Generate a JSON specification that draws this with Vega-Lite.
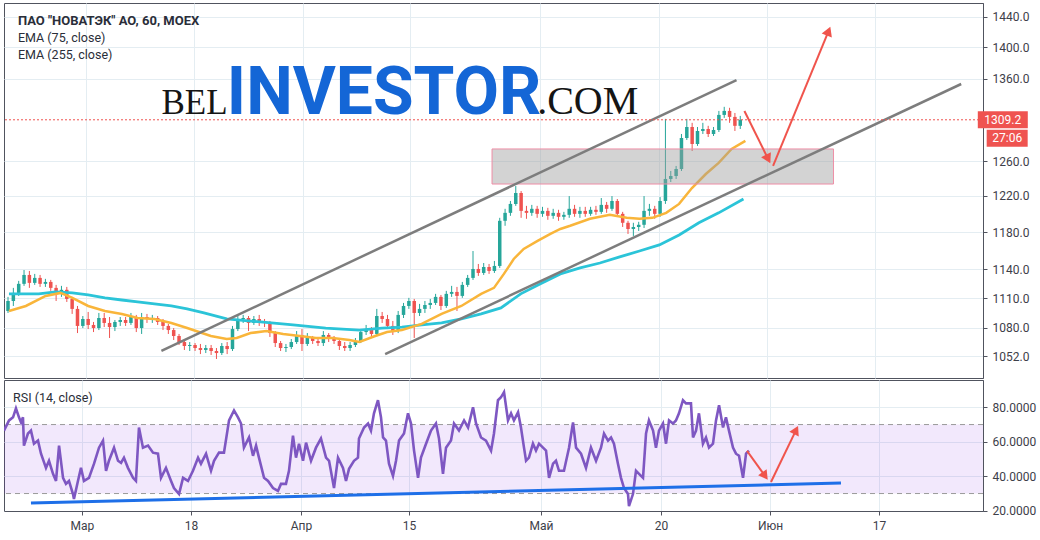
{
"$schema": "https://vega.github.io/schema/vega-lite/v6.json",
"background": "white",
"padding": {"left": 3, "top": 2, "right": 0, "bottom": 0},
"spacing": 0,
"config": {
  "view": {"stroke": "#50535e", "strokeWidth": 1},
  "axis": {"gridColor": "#e4edf2", "labelFont": "Roboto", "labelFontSize": 12, "labelColor": "#3d4049", "tickColor": "#50535e", "domainColor": "#50535e", "tickSize": 4}
},
"datasets": {
  "candles": [
{"t":-7.5,"o":1096.8,"h":1111.2,"l":1094.8,"c":1107.0},
{"t":-7.0,"o":1107.0,"h":1120.5,"l":1101.9,"c":1115.3},
{"t":-6.5,"o":1115.3,"h":1127.8,"l":1112.2,"c":1124.7},
{"t":-6.0,"o":1124.7,"h":1139.2,"l":1122.6,"c":1134.0},
{"t":-5.5,"o":1134.0,"h":1138.2,"l":1120.5,"c":1125.7},
{"t":-5.0,"o":1125.7,"h":1135.1,"l":1123.6,"c":1130.9},
{"t":-4.5,"o":1130.9,"h":1134.0,"l":1121.5,"c":1124.7},
{"t":-4.0,"o":1124.7,"h":1129.9,"l":1121.5,"c":1126.7},
{"t":-3.5,"o":1126.7,"h":1128.8,"l":1117.4,"c":1120.5},
{"t":-3.0,"o":1120.5,"h":1123.6,"l":1107.0,"c":1115.3},
{"t":-2.5,"o":1115.3,"h":1122.6,"l":1111.2,"c":1118.5},
{"t":-2.0,"o":1118.5,"h":1121.5,"l":1106.0,"c":1109.1},
{"t":-1.5,"o":1109.1,"h":1111.2,"l":1093.8,"c":1098.9},
{"t":-1.0,"o":1098.9,"h":1101.9,"l":1074.6,"c":1081.7},
{"t":-0.5,"o":1081.7,"h":1091.7,"l":1079.6,"c":1088.7},
{"t":0.0,"o":1088.7,"h":1095.8,"l":1078.6,"c":1082.7},
{"t":0.5,"o":1082.7,"h":1085.7,"l":1075.6,"c":1079.6},
{"t":1.0,"o":1079.6,"h":1094.8,"l":1077.6,"c":1089.7},
{"t":1.5,"o":1089.7,"h":1094.8,"l":1080.6,"c":1084.7},
{"t":2.0,"o":1084.7,"h":1090.7,"l":1069.7,"c":1080.6},
{"t":2.5,"o":1080.6,"h":1087.7,"l":1076.6,"c":1085.7},
{"t":3.0,"o":1085.7,"h":1090.7,"l":1081.7,"c":1087.7},
{"t":3.5,"o":1087.7,"h":1090.7,"l":1081.7,"c":1084.7},
{"t":4.0,"o":1084.7,"h":1094.8,"l":1082.7,"c":1090.7},
{"t":4.5,"o":1090.7,"h":1092.8,"l":1075.6,"c":1079.6},
{"t":5.0,"o":1079.6,"h":1094.8,"l":1073.7,"c":1090.7},
{"t":5.5,"o":1090.7,"h":1093.8,"l":1084.7,"c":1088.7},
{"t":6.0,"o":1088.7,"h":1092.8,"l":1084.7,"c":1089.7},
{"t":6.5,"o":1089.7,"h":1091.7,"l":1082.7,"c":1085.7},
{"t":7.0,"o":1085.7,"h":1088.7,"l":1077.6,"c":1081.7},
{"t":7.5,"o":1081.7,"h":1083.7,"l":1073.7,"c":1077.6},
{"t":8.0,"o":1077.6,"h":1079.6,"l":1067.7,"c":1071.7},
{"t":8.5,"o":1071.7,"h":1073.7,"l":1062.8,"c":1065.7},
{"t":9.0,"o":1065.7,"h":1067.7,"l":1057.9,"c":1061.8},
{"t":9.5,"o":1061.8,"h":1065.7,"l":1056.9,"c":1062.8},
{"t":10.0,"o":1062.8,"h":1064.7,"l":1056.9,"c":1059.8},
{"t":10.5,"o":1059.8,"h":1063.8,"l":1053.9,"c":1057.9},
{"t":11.0,"o":1057.9,"h":1062.8,"l":1054.9,"c":1059.8},
{"t":11.5,"o":1059.8,"h":1062.8,"l":1053.0,"c":1056.9},
{"t":12.0,"o":1056.9,"h":1059.8,"l":1049.1,"c":1054.9},
{"t":12.5,"o":1054.9,"h":1064.7,"l":1053.0,"c":1061.8},
{"t":13.0,"o":1061.8,"h":1065.7,"l":1053.9,"c":1058.8},
{"t":13.5,"o":1058.8,"h":1081.7,"l":1056.9,"c":1078.6},
{"t":14.0,"o":1078.6,"h":1092.8,"l":1076.6,"c":1088.7},
{"t":14.5,"o":1088.7,"h":1092.8,"l":1084.7,"c":1089.7},
{"t":15.0,"o":1089.7,"h":1091.7,"l":1076.6,"c":1084.7},
{"t":15.5,"o":1084.7,"h":1091.7,"l":1082.7,"c":1088.7},
{"t":16.0,"o":1088.7,"h":1092.8,"l":1081.7,"c":1085.7},
{"t":16.5,"o":1085.7,"h":1088.7,"l":1080.6,"c":1084.7},
{"t":17.0,"o":1084.7,"h":1086.7,"l":1070.7,"c":1074.6},
{"t":17.5,"o":1074.6,"h":1076.6,"l":1060.8,"c":1064.7},
{"t":18.0,"o":1064.7,"h":1066.7,"l":1056.9,"c":1059.8},
{"t":18.5,"o":1059.8,"h":1063.8,"l":1055.9,"c":1060.8},
{"t":19.0,"o":1060.8,"h":1068.7,"l":1058.8,"c":1065.7},
{"t":19.5,"o":1065.7,"h":1076.6,"l":1063.8,"c":1072.7},
{"t":20.0,"o":1072.7,"h":1078.6,"l":1056.9,"c":1063.8},
{"t":20.5,"o":1063.8,"h":1074.6,"l":1061.8,"c":1069.7},
{"t":21.0,"o":1069.7,"h":1071.7,"l":1063.8,"c":1066.7},
{"t":21.5,"o":1066.7,"h":1069.7,"l":1061.8,"c":1064.7},
{"t":22.0,"o":1064.7,"h":1076.6,"l":1061.8,"c":1072.7},
{"t":22.5,"o":1072.7,"h":1074.6,"l":1065.7,"c":1069.7},
{"t":23.0,"o":1069.7,"h":1071.7,"l":1063.8,"c":1066.7},
{"t":23.5,"o":1066.7,"h":1069.7,"l":1057.9,"c":1061.8},
{"t":24.0,"o":1061.8,"h":1065.7,"l":1056.9,"c":1059.8},
{"t":24.5,"o":1059.8,"h":1065.7,"l":1056.9,"c":1062.8},
{"t":25.0,"o":1062.8,"h":1069.7,"l":1060.8,"c":1066.7},
{"t":25.5,"o":1066.7,"h":1078.6,"l":1064.7,"c":1075.6},
{"t":26.0,"o":1075.6,"h":1082.7,"l":1072.7,"c":1078.6},
{"t":26.5,"o":1078.6,"h":1080.6,"l":1069.7,"c":1073.7},
{"t":27.0,"o":1073.7,"h":1098.9,"l":1071.7,"c":1091.7},
{"t":27.5,"o":1091.7,"h":1095.8,"l":1084.7,"c":1088.7},
{"t":28.0,"o":1088.7,"h":1092.8,"l":1078.6,"c":1081.7},
{"t":28.5,"o":1081.7,"h":1086.7,"l":1072.7,"c":1076.6},
{"t":29.0,"o":1076.6,"h":1096.8,"l":1074.6,"c":1092.8},
{"t":29.5,"o":1092.8,"h":1105.0,"l":1089.7,"c":1101.9},
{"t":30.0,"o":1101.9,"h":1110.2,"l":1098.9,"c":1107.0},
{"t":30.5,"o":1107.0,"h":1109.1,"l":1069.7,"c":1094.8},
{"t":31.0,"o":1094.8,"h":1104.0,"l":1091.7,"c":1098.9},
{"t":31.5,"o":1098.9,"h":1107.0,"l":1094.8,"c":1102.9},
{"t":32.0,"o":1102.9,"h":1109.1,"l":1098.9,"c":1105.0},
{"t":32.5,"o":1105.0,"h":1114.3,"l":1102.9,"c":1111.2},
{"t":33.0,"o":1111.2,"h":1113.2,"l":1097.8,"c":1101.9},
{"t":33.5,"o":1101.9,"h":1117.4,"l":1099.9,"c":1114.3},
{"t":34.0,"o":1114.3,"h":1122.6,"l":1111.2,"c":1116.3},
{"t":34.5,"o":1116.3,"h":1121.5,"l":1096.8,"c":1112.2},
{"t":35.0,"o":1112.2,"h":1126.7,"l":1110.2,"c":1123.6},
{"t":35.5,"o":1123.6,"h":1134.0,"l":1121.5,"c":1130.9},
{"t":36.0,"o":1130.9,"h":1159.4,"l":1128.8,"c":1140.3},
{"t":36.5,"o":1140.3,"h":1145.6,"l":1133.0,"c":1136.1},
{"t":37.0,"o":1136.1,"h":1146.6,"l":1134.0,"c":1142.4},
{"t":37.5,"o":1142.4,"h":1145.6,"l":1135.1,"c":1138.2},
{"t":38.0,"o":1138.2,"h":1148.8,"l":1136.1,"c":1143.5},
{"t":38.5,"o":1143.5,"h":1195.6,"l":1141.4,"c":1192.3},
{"t":39.0,"o":1192.3,"h":1205.6,"l":1186.8,"c":1201.1},
{"t":39.5,"o":1201.1,"h":1214.4,"l":1197.8,"c":1211.1},
{"t":40.0,"o":1211.1,"h":1231.3,"l":1208.9,"c":1223.4},
{"t":40.5,"o":1223.4,"h":1225.6,"l":1195.6,"c":1203.3},
{"t":41.0,"o":1203.3,"h":1208.9,"l":1194.5,"c":1201.1},
{"t":41.5,"o":1201.1,"h":1210.0,"l":1197.8,"c":1205.6},
{"t":42.0,"o":1205.6,"h":1208.9,"l":1195.6,"c":1200.0},
{"t":42.5,"o":1200.0,"h":1207.8,"l":1196.7,"c":1203.3},
{"t":43.0,"o":1203.3,"h":1206.7,"l":1193.4,"c":1197.8},
{"t":43.5,"o":1197.8,"h":1205.6,"l":1194.5,"c":1201.1},
{"t":44.0,"o":1201.1,"h":1204.5,"l":1192.3,"c":1196.7},
{"t":44.5,"o":1196.7,"h":1202.2,"l":1193.4,"c":1198.9},
{"t":45.0,"o":1198.9,"h":1219.9,"l":1195.6,"c":1205.6},
{"t":45.5,"o":1205.6,"h":1210.0,"l":1196.7,"c":1200.0},
{"t":46.0,"o":1200.0,"h":1207.8,"l":1195.6,"c":1203.3},
{"t":46.5,"o":1203.3,"h":1207.8,"l":1196.7,"c":1200.0},
{"t":47.0,"o":1200.0,"h":1207.8,"l":1197.8,"c":1204.5},
{"t":47.5,"o":1204.5,"h":1208.9,"l":1198.9,"c":1202.2},
{"t":48.0,"o":1202.2,"h":1217.7,"l":1200.0,"c":1210.0},
{"t":48.5,"o":1210.0,"h":1213.3,"l":1201.1,"c":1205.6},
{"t":49.0,"o":1205.6,"h":1219.9,"l":1203.3,"c":1214.4},
{"t":49.5,"o":1214.4,"h":1216.6,"l":1196.7,"c":1200.0},
{"t":50.0,"o":1200.0,"h":1202.2,"l":1185.5,"c":1190.1},
{"t":50.5,"o":1190.1,"h":1192.3,"l":1177.9,"c":1183.3},
{"t":51.0,"o":1183.3,"h":1190.1,"l":1175.7,"c":1185.5},
{"t":51.5,"o":1185.5,"h":1191.2,"l":1181.1,"c":1187.9},
{"t":52.0,"o":1187.9,"h":1219.9,"l":1184.4,"c":1203.3},
{"t":52.5,"o":1203.3,"h":1211.1,"l":1197.8,"c":1205.6},
{"t":53.0,"o":1205.6,"h":1208.9,"l":1194.5,"c":1200.0},
{"t":53.5,"o":1200.0,"h":1218.8,"l":1196.7,"c":1214.4},
{"t":54.0,"o":1214.4,"h":1310.3,"l":1211.1,"c":1239.4},
{"t":54.5,"o":1239.4,"h":1248.6,"l":1235.9,"c":1242.8},
{"t":55.0,"o":1242.8,"h":1254.4,"l":1239.4,"c":1250.9},
{"t":55.5,"o":1250.9,"h":1292.1,"l":1248.6,"c":1287.3},
{"t":56.0,"o":1287.3,"h":1310.3,"l":1285.0,"c":1300.5},
{"t":56.5,"o":1300.5,"h":1305.5,"l":1271.9,"c":1280.2},
{"t":57.0,"o":1280.2,"h":1300.5,"l":1277.9,"c":1295.7},
{"t":57.5,"o":1295.7,"h":1305.5,"l":1292.1,"c":1298.1},
{"t":58.0,"o":1298.1,"h":1301.9,"l":1288.5,"c":1292.1},
{"t":58.5,"o":1292.1,"h":1300.5,"l":1289.7,"c":1296.9},
{"t":59.0,"o":1296.9,"h":1320.0,"l":1294.5,"c":1315.1},
{"t":59.5,"o":1315.1,"h":1325.0,"l":1311.5,"c":1320.0},
{"t":60.0,"o":1320.0,"h":1323.8,"l":1305.5,"c":1312.7},
{"t":60.5,"o":1312.7,"h":1317.5,"l":1295.7,"c":1301.9},
{"t":61.0,"o":1301.9,"h":1313.9,"l":1298.1,"c":1309.2}
  ],
  "ema75": [
{"t":-7.41,"p":1096.8},{"t":-5.83,"p":1101.9},{"t":-3.98,"p":1112.2},{"t":-2.59,"p":1115.3},{"t":-1.48,"p":1110.2},{"t":0,"p":1101.9},{"t":1.57,"p":1096.8},{"t":3.15,"p":1093.8},{"t":4.63,"p":1089.7},{"t":6.2,"p":1088.7},{"t":7.78,"p":1084.7},{"t":9.26,"p":1079.6},{"t":10.37,"p":1075.6},{"t":11.48,"p":1071.7},{"t":12.96,"p":1068.7},{"t":13.89,"p":1069.7},{"t":15.19,"p":1074.6},{"t":16.67,"p":1076.6},{"t":18.24,"p":1073.7},{"t":19.81,"p":1071.7},{"t":21.3,"p":1069.7},{"t":22.87,"p":1069.7},{"t":24.44,"p":1067.7},{"t":25.37,"p":1065.7},{"t":26.85,"p":1071.7},{"t":27.96,"p":1075.6},{"t":29.35,"p":1077.6},{"t":31.2,"p":1083.7},{"t":33.06,"p":1093.8},{"t":34.91,"p":1101.9},{"t":36.76,"p":1114.3},{"t":37.96,"p":1120.5},{"t":38.89,"p":1135.1},{"t":39.81,"p":1150.9},{"t":40.74,"p":1161.6},{"t":42.04,"p":1170.3},{"t":43.24,"p":1177.9},{"t":44.17,"p":1183.3},{"t":45.09,"p":1186.8},{"t":46.94,"p":1194.5},{"t":48.8,"p":1198.9},{"t":50.37,"p":1195.6},{"t":51.57,"p":1194.5},{"t":52.78,"p":1195.6},{"t":54.07,"p":1201.1},{"t":55.28,"p":1211.1},{"t":56.48,"p":1229.0},{"t":57.78,"p":1245.1},{"t":58.98,"p":1258.0},{"t":60.19,"p":1274.3},{"t":61.48,"p":1283.8}
  ],
  "ema255": [
{"t":-7.41,"p":1114.3},{"t":-4.63,"p":1114.3},{"t":-3.06,"p":1116.3},{"t":-1.48,"p":1115.3},{"t":0,"p":1113.2},{"t":1.57,"p":1110.2},{"t":3.15,"p":1108.0},{"t":4.63,"p":1106.0},{"t":6.2,"p":1104.0},{"t":7.78,"p":1101.9},{"t":9.26,"p":1098.9},{"t":10.83,"p":1094.8},{"t":12.96,"p":1088.7},{"t":16.11,"p":1085.7},{"t":19.17,"p":1082.7},{"t":22.22,"p":1079.6},{"t":25.37,"p":1077.6},{"t":27.5,"p":1079.6},{"t":29.35,"p":1080.6},{"t":31.2,"p":1082.7},{"t":33.06,"p":1084.7},{"t":34.91,"p":1088.7},{"t":36.76,"p":1093.8},{"t":38.61,"p":1099.9},{"t":40.46,"p":1114.3},{"t":42.31,"p":1124.7},{"t":44.17,"p":1135.1},{"t":46.02,"p":1141.4},{"t":47.87,"p":1146.6},{"t":49.72,"p":1153.1},{"t":51.57,"p":1159.4},{"t":53.43,"p":1166.0},{"t":55.28,"p":1176.8},{"t":57.13,"p":1190.1},{"t":58.98,"p":1201.1},{"t":61.3,"p":1216.6}
  ],
  "channels": [
{"id":"upper","t":6.85,"p":1056.9},{"id":"upper","t":60.65,"p":1358.3},
{"id":"lower","t":27.78,"p":1053.9},{"id":"lower","t":81.67,"p":1353.3}
  ],
  "zone": [{"t1":37.78,"t2":69.72,"p1":1233.6,"p2":1274.3}],
  "priceArrows": [
{"id":1,"t":61.39,"p":1319.9},{"id":1,"t":63.61,"p":1262.5},
{"id":2,"t":64.07,"p":1254.4},{"id":2,"t":69.26,"p":1421.3}
  ],
  "last": [{"p":1309.2,"timer":"27:06"}],
  "legend": [
{"label":"ПАО \"НОВАТЭК\" АО, 60, MOEX","p":1434.5},
{"label":"EMA (75, close)","p":1412.2},
{"label":"EMA (255, close)","p":1390.2}
  ],
  "watermark": [{"a":"BEL","b":"INVESTOR","c":".COM"}],
  "rsiTitle": [{"label":"RSI (14, close)"}],
  "rsi": [
{"t":-7.41,"v":66.5},{"t":-6.94,"v":72.4},{"t":-6.57,"v":74.2},{"t":-6.3,"v":79.4},{"t":-6.02,"v":74.2},{"t":-5.83,"v":71.2},{"t":-5.65,"v":74.2},{"t":-5.56,"v":57.8},{"t":-5.19,"v":64.8},{"t":-4.91,"v":66.5},{"t":-4.63,"v":58.9},{"t":-4.26,"v":60.7},{"t":-3.98,"v":53.1},{"t":-3.52,"v":44.9},{"t":-3.24,"v":49.0},{"t":-2.87,"v":41.4},{"t":-2.59,"v":37.3},{"t":-2.31,"v":57.8},{"t":-1.94,"v":39.1},{"t":-1.67,"v":35.6},{"t":-1.39,"v":37.3},{"t":-1.02,"v":29.7},{"t":-0.93,"v":26.8},{"t":-0.56,"v":37.3},{"t":-0.28,"v":44.9},{"t":0,"v":37.3},{"t":0.46,"v":39.1},{"t":0.93,"v":47.3},{"t":1.39,"v":56.6},{"t":1.76,"v":60.7},{"t":2.04,"v":43.2},{"t":2.31,"v":49.0},{"t":2.78,"v":56.6},{"t":3.15,"v":49.0},{"t":3.43,"v":47.8},{"t":3.7,"v":50.8},{"t":4.07,"v":44.9},{"t":4.54,"v":39.1},{"t":4.81,"v":37.3},{"t":5.09,"v":68.3},{"t":5.46,"v":56.6},{"t":5.93,"v":57.8},{"t":6.39,"v":53.7},{"t":6.85,"v":53.1},{"t":7.13,"v":39.1},{"t":7.59,"v":44.9},{"t":8.06,"v":37.3},{"t":8.33,"v":33.2},{"t":8.8,"v":29.7},{"t":9.17,"v":39.1},{"t":9.63,"v":37.3},{"t":10.09,"v":43.2},{"t":10.56,"v":50.8},{"t":10.83,"v":47.3},{"t":11.3,"v":53.1},{"t":11.76,"v":43.2},{"t":12.04,"v":49.0},{"t":12.5,"v":53.7},{"t":12.96,"v":53.7},{"t":13.43,"v":72.4},{"t":13.89,"v":78.2},{"t":14.26,"v":74.2},{"t":14.54,"v":70.6},{"t":14.81,"v":56.6},{"t":15.28,"v":62.5},{"t":15.65,"v":51.9},{"t":15.93,"v":57.8},{"t":16.2,"v":50.8},{"t":16.67,"v":39.1},{"t":17.04,"v":37.3},{"t":17.5,"v":33.2},{"t":17.96,"v":31.5},{"t":18.24,"v":35.6},{"t":18.7,"v":35.6},{"t":18.98,"v":43.2},{"t":19.35,"v":63.6},{"t":19.63,"v":50.8},{"t":19.91,"v":58.9},{"t":20.28,"v":49.0},{"t":20.56,"v":59.5},{"t":21.02,"v":49.0},{"t":21.48,"v":56.6},{"t":21.94,"v":61.9},{"t":22.41,"v":50.8},{"t":22.69,"v":49.0},{"t":23.15,"v":33.2},{"t":23.52,"v":50.8},{"t":23.98,"v":44.9},{"t":24.26,"v":37.3},{"t":24.54,"v":44.3},{"t":25.0,"v":49.0},{"t":25.37,"v":50.8},{"t":25.46,"v":61.9},{"t":25.93,"v":68.3},{"t":26.3,"v":70.6},{"t":26.57,"v":66.5},{"t":26.85,"v":76.5},{"t":27.22,"v":84.1},{"t":27.5,"v":74.2},{"t":27.69,"v":62.5},{"t":27.96,"v":60.7},{"t":28.24,"v":47.3},{"t":28.61,"v":40.2},{"t":28.89,"v":49.0},{"t":29.17,"v":60.7},{"t":29.63,"v":64.8},{"t":30.0,"v":76.5},{"t":30.28,"v":70.6},{"t":30.56,"v":54.9},{"t":30.93,"v":39.1},{"t":31.2,"v":50.8},{"t":31.67,"v":58.9},{"t":32.13,"v":66.5},{"t":32.59,"v":70.6},{"t":32.87,"v":61.9},{"t":33.24,"v":41.4},{"t":33.52,"v":56.6},{"t":33.98,"v":60.7},{"t":34.26,"v":70.6},{"t":34.72,"v":66.5},{"t":35.19,"v":72.4},{"t":35.56,"v":68.3},{"t":36.02,"v":80.0},{"t":36.3,"v":70.6},{"t":36.76,"v":62.5},{"t":37.22,"v":60.7},{"t":37.69,"v":54.9},{"t":37.96,"v":64.8},{"t":38.33,"v":84.1},{"t":38.61,"v":85.8},{"t":38.89,"v":88.8},{"t":39.26,"v":72.4},{"t":39.54,"v":76.5},{"t":39.81,"v":72.4},{"t":40.19,"v":77.1},{"t":40.46,"v":68.3},{"t":40.74,"v":56.6},{"t":40.93,"v":49.0},{"t":41.2,"v":50.8},{"t":41.57,"v":58.9},{"t":41.85,"v":54.9},{"t":42.13,"v":58.9},{"t":42.5,"v":56.6},{"t":42.78,"v":54.9},{"t":43.06,"v":39.1},{"t":43.43,"v":47.3},{"t":43.7,"v":49.0},{"t":43.98,"v":43.2},{"t":44.44,"v":43.2},{"t":44.91,"v":56.6},{"t":45.28,"v":71.2},{"t":45.56,"v":56.6},{"t":46.02,"v":53.1},{"t":46.48,"v":44.9},{"t":46.94,"v":56.6},{"t":47.41,"v":49.0},{"t":47.87,"v":56.6},{"t":48.15,"v":64.8},{"t":48.52,"v":60.7},{"t":48.8,"v":62.5},{"t":49.07,"v":58.9},{"t":49.44,"v":47.3},{"t":49.72,"v":39.1},{"t":50.0,"v":33.2},{"t":50.37,"v":29.7},{"t":50.46,"v":22.7},{"t":50.83,"v":29.7},{"t":51.11,"v":43.2},{"t":51.39,"v":41.4},{"t":51.76,"v":39.1},{"t":52.04,"v":64.8},{"t":52.31,"v":72.4},{"t":52.69,"v":66.5},{"t":52.96,"v":56.6},{"t":53.24,"v":66.5},{"t":53.61,"v":70.6},{"t":53.89,"v":58.9},{"t":54.17,"v":72.4},{"t":54.54,"v":70.6},{"t":54.81,"v":72.4},{"t":55.09,"v":76.5},{"t":55.46,"v":84.1},{"t":55.74,"v":82.3},{"t":56.2,"v":82.3},{"t":56.39,"v":62.5},{"t":56.67,"v":66.5},{"t":56.94,"v":76.5},{"t":57.31,"v":58.9},{"t":57.59,"v":62.5},{"t":57.87,"v":56.6},{"t":58.24,"v":58.9},{"t":58.52,"v":72.4},{"t":58.8,"v":81.2},{"t":59.17,"v":68.3},{"t":59.44,"v":74.2},{"t":59.72,"v":66.5},{"t":60.09,"v":56.6},{"t":60.37,"v":53.1},{"t":60.65,"v":51.9},{"t":61.02,"v":39.1},{"t":61.3,"v":53.1},{"t":61.57,"v":54.9}
  ],
  "rsiBand": [{"lo":30,"hi":70}],
  "rsiLevels": [{"v":70},{"v":30}],
  "rsiTrend": [{"t":-4.91,"v":24.5},{"t":70.09,"v":36.1}],
  "rsiArrows": [
{"id":1,"t":61.39,"v":54.7},{"id":1,"t":63.06,"v":40.2},
{"id":2,"t":63.61,"v":36.7},{"id":2,"t":65.93,"v":66.8}
  ]
},
"vconcat": [
{
  "width": 979,
  "height": 375,
  "layer": [
    {"data": {"name": "candles"},
     "mark": {"type": "rule", "clip": true, "strokeWidth": 1},
     "encoding": {
       "x": {"field": "t", "type": "quantitative", "title": null, "scale": {"domain": [-7.407, 83.24], "nice": false, "zero": false},
             "axis": {"values": [-0.19, 9.91, 20.09, 30.09, 42.31, 53.43, 63.52, 73.61], "labels": false, "ticks": false, "domain": false, "grid": true}},
       "y": {"field": "l", "type": "quantitative", "title": null, "scale": {"type": "log", "domain": [1030.8, 1458.7], "nice": false},
             "axis": {"orient": "right", "values": [1052, 1080, 1110, 1140, 1180, 1220, 1260, 1360, 1400, 1440], "format": ".1f", "grid": true, "labelPadding": 5}},
       "y2": {"field": "h"},
       "color": {"condition": {"test": "datum.c >= datum.o", "value": "#26a69a"}, "value": "#ef5350"}
     }},
    {"data": {"name": "candles"},
     "mark": {"type": "bar", "clip": true, "size": 3.5},
     "encoding": {
       "x": {"field": "t", "type": "quantitative", "title": null, "scale": {"domain": [-7.407, 83.24], "nice": false, "zero": false}},
       "y": {"field": "o", "type": "quantitative", "title": null, "scale": {"type": "log", "domain": [1030.8, 1458.7], "nice": false}},
       "y2": {"field": "c"},
       "color": {"condition": {"test": "datum.c >= datum.o", "value": "#26a69a"}, "value": "#ef5350"}
     }},
    {"data": {"name": "ema255"},
     "mark": {"type": "line", "clip": true, "color": "#2bc4d8", "strokeWidth": 2.8},
     "encoding": {
       "x": {"field": "t", "type": "quantitative", "title": null, "scale": {"domain": [-7.407, 83.24], "nice": false, "zero": false}},
       "y": {"field": "p", "type": "quantitative", "title": null, "scale": {"type": "log", "domain": [1030.8, 1458.7], "nice": false}}
     }},
    {"data": {"name": "ema75"},
     "mark": {"type": "line", "clip": true, "color": "#f9b53a", "strokeWidth": 2.5},
     "encoding": {
       "x": {"field": "t", "type": "quantitative", "title": null, "scale": {"domain": [-7.407, 83.24], "nice": false, "zero": false}},
       "y": {"field": "p", "type": "quantitative", "title": null, "scale": {"type": "log", "domain": [1030.8, 1458.7], "nice": false}}
     }},
    {"data": {"name": "zone"},
     "mark": {"type": "rect", "fill": "#9e9e9e", "fillOpacity": 0.45, "stroke": "#ee8ea6", "strokeWidth": 1},
     "encoding": {
       "x": {"field": "t1", "type": "quantitative", "title": null, "scale": {"domain": [-7.407, 83.24], "nice": false, "zero": false}},
       "x2": {"field": "t2"},
       "y": {"field": "p1", "type": "quantitative", "title": null, "scale": {"type": "log", "domain": [1030.8, 1458.7], "nice": false}},
       "y2": {"field": "p2"}
     }},
    {"data": {"name": "channels"},
     "mark": {"type": "line", "clip": true, "color": "#7d7d7d", "strokeWidth": 2.5},
     "encoding": {
       "x": {"field": "t", "type": "quantitative", "title": null, "scale": {"domain": [-7.407, 83.24], "nice": false, "zero": false}},
       "y": {"field": "p", "type": "quantitative", "title": null, "scale": {"type": "log", "domain": [1030.8, 1458.7], "nice": false}},
       "detail": {"field": "id"}
     }},
    {"data": {"name": "last"},
     "mark": {"type": "rule", "color": "#ef5350", "strokeDash": [2, 2], "strokeWidth": 1},
     "encoding": {
       "y": {"field": "p", "type": "quantitative", "title": null, "scale": {"type": "log", "domain": [1030.8, 1458.7], "nice": false}}
     }},
    {"data": {"name": "priceArrows"},
     "mark": {"type": "line", "color": "#f0544c", "strokeWidth": 2},
     "encoding": {
       "x": {"field": "t", "type": "quantitative", "title": null, "scale": {"domain": [-7.407, 83.24], "nice": false, "zero": false}},
       "y": {"field": "p", "type": "quantitative", "title": null, "scale": {"type": "log", "domain": [1030.8, 1458.7], "nice": false}},
       "detail": {"field": "id"}
     }},
    {"data": {"name": "priceArrows"},
     "transform": [{"filter": "datum.id == 1 && datum.t > 62"}],
     "mark": {"type": "point", "shape": "triangle-up", "filled": true, "color": "#f0544c", "size": 120, "angle": 153, "opacity": 1},
     "encoding": {
       "x": {"field": "t", "type": "quantitative", "title": null, "scale": {"domain": [-7.407, 83.24], "nice": false, "zero": false}},
       "y": {"field": "p", "type": "quantitative", "title": null, "scale": {"type": "log", "domain": [1030.8, 1458.7], "nice": false}}
     }},
    {"data": {"name": "priceArrows"},
     "transform": [{"filter": "datum.id == 2 && datum.t > 65"}],
     "mark": {"type": "point", "shape": "triangle-up", "filled": true, "color": "#f0544c", "size": 120, "angle": 22, "opacity": 1},
     "encoding": {
       "x": {"field": "t", "type": "quantitative", "title": null, "scale": {"domain": [-7.407, 83.24], "nice": false, "zero": false}},
       "y": {"field": "p", "type": "quantitative", "title": null, "scale": {"type": "log", "domain": [1030.8, 1458.7], "nice": false}}
     }},
    {"data": {"name": "last"},
     "mark": {"type": "rect", "color": "#ef5350", "width": 50, "height": 17},
     "encoding": {
       "x": {"datum": 85.56, "type": "quantitative", "scale": {"domain": [-7.407, 83.24], "nice": false, "zero": false}},
       "y": {"field": "p", "type": "quantitative", "title": null, "scale": {"type": "log", "domain": [1030.8, 1458.7], "nice": false}}
     }},
    {"data": {"name": "last"},
     "mark": {"type": "rect", "color": "#ef5350", "width": 41, "height": 17, "yOffset": 18.5},
     "encoding": {
       "x": {"datum": 85.97, "type": "quantitative", "scale": {"domain": [-7.407, 83.24], "nice": false, "zero": false}},
       "y": {"field": "p", "type": "quantitative", "title": null, "scale": {"type": "log", "domain": [1030.8, 1458.7], "nice": false}}
     }},
    {"data": {"name": "last"},
     "mark": {"type": "text", "color": "white", "font": "Roboto", "fontSize": 12, "align": "center", "baseline": "middle"},
     "encoding": {
       "x": {"datum": 85.56, "type": "quantitative", "scale": {"domain": [-7.407, 83.24], "nice": false, "zero": false}},
       "y": {"field": "p", "type": "quantitative", "title": null, "scale": {"type": "log", "domain": [1030.8, 1458.7], "nice": false}},
       "text": {"field": "p", "format": ".1f"}
     }},
    {"data": {"name": "last"},
     "mark": {"type": "text", "color": "white", "font": "Roboto", "fontSize": 12, "align": "center", "baseline": "middle", "yOffset": 18.5},
     "encoding": {
       "x": {"datum": 85.97, "type": "quantitative", "scale": {"domain": [-7.407, 83.24], "nice": false, "zero": false}},
       "y": {"field": "p", "type": "quantitative", "title": null, "scale": {"type": "log", "domain": [1030.8, 1458.7], "nice": false}},
       "text": {"field": "timer"}
     }},
    {"data": {"name": "legend"},
     "transform": [{"filter": "datum.p > 1420"}],
     "mark": {"type": "text", "align": "left", "baseline": "middle", "font": "Roboto", "fontSize": 13, "fontWeight": "bold", "color": "#2a2e39"},
     "encoding": {
       "x": {"datum": -6.57, "type": "quantitative", "scale": {"domain": [-7.407, 83.24], "nice": false, "zero": false}},
       "y": {"field": "p", "type": "quantitative", "title": null, "scale": {"type": "log", "domain": [1030.8, 1458.7], "nice": false}},
       "text": {"field": "label"}
     }},
    {"data": {"name": "legend"},
     "transform": [{"filter": "datum.p < 1420"}],
     "mark": {"type": "text", "align": "left", "baseline": "middle", "font": "Roboto", "fontSize": 12.5, "color": "#2a2e39"},
     "encoding": {
       "x": {"datum": -6.57, "type": "quantitative", "scale": {"domain": [-7.407, 83.24], "nice": false, "zero": false}},
       "y": {"field": "p", "type": "quantitative", "title": null, "scale": {"type": "log", "domain": [1030.8, 1458.7], "nice": false}},
       "text": {"field": "label"}
     }},
    {"data": {"name": "watermark"},
     "mark": {"type": "text", "align": "left", "baseline": "alphabetic", "font": "Liberation Serif", "fontSize": 35, "color": "#151515"},
     "encoding": {
       "x": {"datum": 6.85, "type": "quantitative", "scale": {"domain": [-7.407, 83.24], "nice": false, "zero": false}},
       "y": {"datum": 1316.2, "type": "quantitative", "scale": {"type": "log", "domain": [1030.8, 1458.7], "nice": false}},
       "text": {"field": "a"}
     }},
    {"data": {"name": "watermark"},
     "mark": {"type": "text", "align": "left", "baseline": "alphabetic", "font": "Roboto", "fontWeight": "bold", "fontSize": 66, "color": "#1466d6"},
     "encoding": {
       "x": {"datum": 12.97, "type": "quantitative", "scale": {"domain": [-7.407, 83.24], "nice": false, "zero": false}},
       "y": {"datum": 1316.2, "type": "quantitative", "scale": {"type": "log", "domain": [1030.8, 1458.7], "nice": false}},
       "text": {"field": "b"}
     }},
    {"data": {"name": "watermark"},
     "mark": {"type": "text", "align": "left", "baseline": "alphabetic", "font": "Liberation Serif", "fontSize": 40, "color": "#151515"},
     "encoding": {
       "x": {"datum": 42.0, "type": "quantitative", "scale": {"domain": [-7.407, 83.24], "nice": false, "zero": false}},
       "y": {"datum": 1316.2, "type": "quantitative", "scale": {"type": "log", "domain": [1030.8, 1458.7], "nice": false}},
       "text": {"field": "c"}
     }}
  ]
},
{
  "width": 979,
  "height": 131,
  "layer": [
    {"data": {"name": "rsiBand"},
     "mark": {"type": "rect", "color": "#7b1fe0", "opacity": 0.1},
     "encoding": {
       "x": {"datum": -7.407, "type": "quantitative", "scale": {"domain": [-7.407, 83.24], "nice": false, "zero": false},
             "axis": {"values": [-0.19, 9.91, 20.09, 30.09, 42.31, 53.43, 63.52, 73.61], "grid": true, "title": null, "labelPadding": 5,
                      "labelExpr": "datum.value < 5 ? 'Мар' : datum.value < 15 ? '18' : datum.value < 25 ? 'Апр' : datum.value < 35 ? '15' : datum.value < 48 ? 'Май' : datum.value < 58 ? '20' : datum.value < 68 ? 'Июн' : '17'"}},
       "x2": {"datum": 83.24},
       "y": {"field": "lo", "type": "quantitative", "title": null, "scale": {"domain": [19.88, 95.83], "nice": false, "zero": false},
             "axis": {"orient": "right", "values": [20, 40, 60, 80], "format": ".4f", "grid": true, "labelPadding": 5}},
       "y2": {"field": "hi"}
     }},
    {"data": {"name": "rsiLevels"},
     "mark": {"type": "rule", "color": "#9a9a9a", "strokeDash": [5, 4], "strokeWidth": 1},
     "encoding": {
       "y": {"field": "v", "type": "quantitative", "title": null, "scale": {"domain": [19.88, 95.83], "nice": false, "zero": false}}
     }},
    {"data": {"name": "rsi"},
     "mark": {"type": "line", "clip": true, "color": "#7e57c2", "strokeWidth": 2.6},
     "encoding": {
       "x": {"field": "t", "type": "quantitative", "title": null, "scale": {"domain": [-7.407, 83.24], "nice": false, "zero": false}},
       "y": {"field": "v", "type": "quantitative", "title": null, "scale": {"domain": [19.88, 95.83], "nice": false, "zero": false}}
     }},
    {"data": {"name": "rsiTrend"},
     "mark": {"type": "line", "color": "#1e6fe8", "strokeWidth": 3},
     "encoding": {
       "x": {"field": "t", "type": "quantitative", "title": null, "scale": {"domain": [-7.407, 83.24], "nice": false, "zero": false}},
       "y": {"field": "v", "type": "quantitative", "title": null, "scale": {"domain": [19.88, 95.83], "nice": false, "zero": false}}
     }},
    {"data": {"name": "rsiArrows"},
     "mark": {"type": "line", "color": "#f0544c", "strokeWidth": 2},
     "encoding": {
       "x": {"field": "t", "type": "quantitative", "title": null, "scale": {"domain": [-7.407, 83.24], "nice": false, "zero": false}},
       "y": {"field": "v", "type": "quantitative", "title": null, "scale": {"domain": [19.88, 95.83], "nice": false, "zero": false}},
       "detail": {"field": "id"}
     }},
    {"data": {"name": "rsiArrows"},
     "transform": [{"filter": "datum.id == 1 && datum.t > 62"}],
     "mark": {"type": "point", "shape": "triangle-up", "filled": true, "color": "#f0544c", "size": 110, "angle": 144, "opacity": 1},
     "encoding": {
       "x": {"field": "t", "type": "quantitative", "title": null, "scale": {"domain": [-7.407, 83.24], "nice": false, "zero": false}},
       "y": {"field": "v", "type": "quantitative", "title": null, "scale": {"domain": [19.88, 95.83], "nice": false, "zero": false}}
     }},
    {"data": {"name": "rsiArrows"},
     "transform": [{"filter": "datum.id == 2 && datum.t > 65"}],
     "mark": {"type": "point", "shape": "triangle-up", "filled": true, "color": "#f0544c", "size": 110, "angle": 26, "opacity": 1},
     "encoding": {
       "x": {"field": "t", "type": "quantitative", "title": null, "scale": {"domain": [-7.407, 83.24], "nice": false, "zero": false}},
       "y": {"field": "v", "type": "quantitative", "title": null, "scale": {"domain": [19.88, 95.83], "nice": false, "zero": false}}
     }},
    {"data": {"name": "rsiTitle"},
     "mark": {"type": "text", "align": "left", "baseline": "middle", "font": "Roboto", "fontSize": 12.5, "color": "#2a2e39"},
     "encoding": {
       "x": {"datum": -6.57, "type": "quantitative", "scale": {"domain": [-7.407, 83.24], "nice": false, "zero": false}},
       "y": {"datum": 85.4, "type": "quantitative", "scale": {"domain": [19.88, 95.83], "nice": false, "zero": false}},
       "text": {"field": "label"}
     }}
  ]
}
]
}
